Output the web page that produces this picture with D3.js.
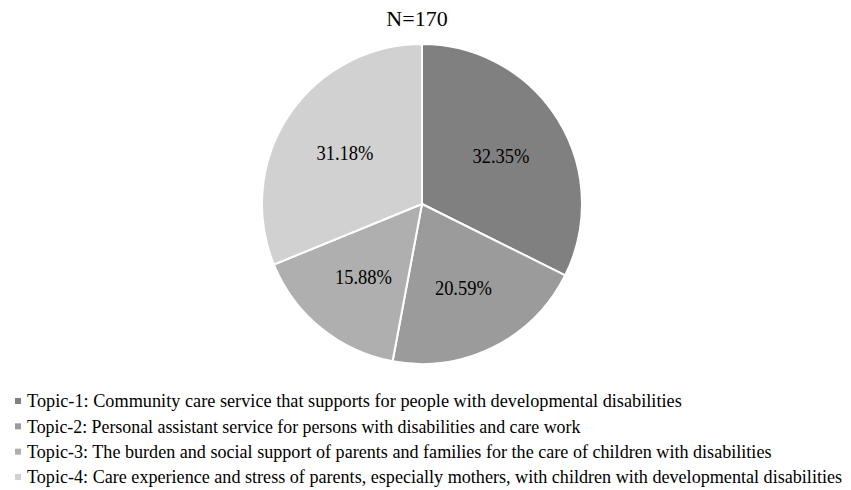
<!DOCTYPE html>
<html>
<head>
<meta charset="utf-8">
<script src="https://cdn.jsdelivr.net/npm/d3@7"></script>
<style>
  html, body { margin: 0; padding: 0; background: #fff; }
  svg { display: block; font-family: "Liberation Serif", "Times New Roman", serif; }
</style>
</head>
<body>
<svg id="chart" width="851" height="490"></svg>
<script>
// Topic document counts (N = 170)
const topics = ["Topic-1", "Topic-2", "Topic-3", "Topic-4"];
const counts = [55, 35, 27, 53];
const percentLabels = ["32.35%", "20.59%", "15.88%", "31.18%"];
const descriptions = [
  "Topic-1: Community care service that supports for people with developmental disabilities",
  "Topic-2: Personal assistant service for persons with disabilities and care work",
  "Topic-3: The burden and social support of parents and families for the care of children with disabilities",
  "Topic-4: Care experience and stress of parents, especially mothers, with children with developmental disabilities"
];
const fills = ["#808080", "#9b9b9b", "#afafaf", "#d1d1d1"];
const total = d3.sum(counts);

const svg = d3.select("#chart");
const cx = 422, cy = 204, r = 160;

svg.append("text")
  .attr("x", 417).attr("y", 26)
  .attr("text-anchor", "middle")
  .attr("font-size", 22)
  .attr("fill", "#000")
  .text("N=" + total);

const color = d3.scaleOrdinal().domain(topics).range(fills);
const pie = d3.pie().sort(null).value(d => d.count);
const data = topics.map((t, i) => ({ topic: t, count: counts[i], label: percentLabels[i] }));
const arcs = pie(data);
const arc = d3.arc().innerRadius(0).outerRadius(r);
const labelArc = d3.arc().innerRadius(r * 0.58).outerRadius(r * 0.58);

const g = svg.append("g").attr("transform", `translate(${cx},${cy})`);
g.selectAll("path.slice").data(arcs).join("path")
  .attr("class", "slice")
  .attr("d", arc)
  .attr("fill", d => color(d.data.topic))
  .attr("stroke", "#fff")
  .attr("stroke-width", 2)
  .attr("stroke-linejoin", "round");

// Narrowed serif text: measure natural width, then squeeze horizontally
function squeeze(sel, targetWidth) {
  const w = sel.node().getComputedTextLength();
  return Math.min(1, targetWidth / w);
}

g.selectAll("text.pct").data(arcs).join("text")
  .attr("class", "pct")
  .attr("text-anchor", "middle")
  .attr("dy", "0.35em")
  .attr("font-size", 22)
  .attr("fill", "#000")
  .text(d => d.data.label)
  .each(function(d) {
    const t = d3.select(this);
    const k = squeeze(t, 57);
    t.attr("transform", `translate(${labelArc.centroid(d)}) scale(${k},1)`);
  });

// Legend
const legendWidths = [655, 554, 745, 816];
const legend = svg.append("g");
const rowY = d3.scalePoint().domain(topics).range([401, 477]);
topics.forEach((t, i) => {
  const y = rowY(t);
  legend.append("rect")
    .attr("x", 15).attr("y", y - 3)
    .attr("width", 6).attr("height", 6)
    .attr("fill", color(t));
  const txt = legend.append("text")
    .attr("dy", "0.35em")
    .attr("font-size", 18.5)
    .attr("fill", "#000")
    .text(descriptions[i]);
  const k = squeeze(txt, legendWidths[i]);
  txt.attr("transform", `translate(27,${y}) scale(${k},1)`);
});
</script>
</body>
</html>
